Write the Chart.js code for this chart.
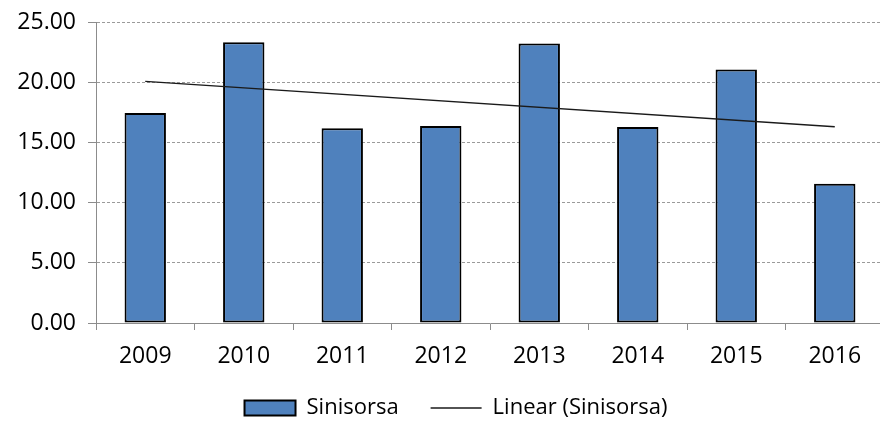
<!DOCTYPE html>
<html>
<head>
<meta charset="utf-8">
<script src="https://cdn.jsdelivr.net/npm/chart.js@4/dist/chart.umd.min.js"></script>
<style>
  html, body { margin: 0; padding: 0; background: #fff; overflow: hidden; }
  #wrap { width: 884px; height: 429px; }
</style>
</head>
<body>
<div id="wrap"><canvas id="chart" width="884" height="429"></canvas></div>
<script>
// data
const years = ["2009", "2010", "2011", "2012", "2013", "2014", "2015", "2016"];
const sinisorsa = [17.44, 23.31, 16.17, 16.36, 23.22, 16.28, 21.06, 11.56];
// trend line, only the two ends are drawn
const trendLine = [20.07, null, null, null, null, null, null, 16.3];
const yTicks = [0, 5, 10, 15, 20, 25];

const FONT = "'Open Sans', sans-serif";

// legend sits a bit right of the middle in the original, nudge it over
const legendShift = {
  id: "legendShift",
  afterLayout(chart) {
    chart.legend.right += 28;
  }
};

new Chart(document.getElementById("chart"), {
  type: "bar",
  data: {
    labels: years,
    datasets: [
      {
        label: "Sinisorsa",
        data: sinisorsa,
        backgroundColor: "#4F81BD",
        borderColor: "#000000",
        borderWidth: 2,
        borderSkipped: false,
        barPercentage: 0.42,
        categoryPercentage: 1,
        pointStyle: "rect",
        order: 2
      },
      {
        type: "line",
        label: "Linear (Sinisorsa)",
        data: trendLine,
        spanGaps: true,
        borderColor: "#1a1a1a",
        backgroundColor: "#1a1a1a",
        borderWidth: 1.3,
        pointRadius: 0,
        pointStyle: "line",
        order: 1
      }
    ]
  },
  plugins: [legendShift],
  options: {
    responsive: false,
    animation: false,
    layout: { padding: { top: 22, right: 0, left: 0, bottom: 0 } },
    plugins: {
      tooltip: { enabled: false },
      legend: {
        position: "bottom",
        labels: {
          usePointStyle: true,
          pointStyleWidth: 51,
          boxHeight: 15,
          padding: 32,
          color: "#000",
          font: { family: FONT, size: 22 },
          sort: (a, b) => a.datasetIndex - b.datasetIndex
        }
      }
    },
    scales: {
      x: {
        afterFit: s => { s.height = 42; },
        grid: {
          offset: true,
          drawOnChartArea: false,
          drawTicks: true,
          tickLength: 7,
          color: "#8c8c8c"
        },
        border: { color: "#8c8c8c", width: 1 },
        ticks: {
          color: "#000",
          padding: 13,
          font: { family: FONT, size: 23 }
        }
      },
      y: {
        min: 0,
        max: 25,
        afterFit: s => {
          s.width = 96;
          s.paddingTop = 0;
          s.paddingBottom = 0;
        },
        afterBuildTicks: s => { s.ticks = yTicks.map(v => ({ value: v })); },
        grid: {
          color: "#9a9a9a",
          tickLength: 8,
          tickColor: "#8c8c8c"
        },
        border: { color: "#8c8c8c", width: 1, dash: [3, 2] },
        ticks: {
          color: "#000",
          padding: 12,
          font: { family: FONT, size: 23 },
          callback: v => v.toFixed(2)
        }
      }
    }
  }
});
</script>
</body>
</html>
